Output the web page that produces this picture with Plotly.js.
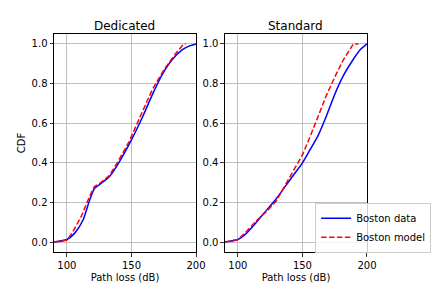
<!DOCTYPE html>
<html>
<head>
<meta charset="utf-8">
<script src="https://cdn.plot.ly/plotly-3.0.1.min.js"></script>
<style>html,body{margin:0;padding:0;background:#fff;}#chart{width:432px;height:288px;}</style>
</head>
<body>
<div id="chart"></div>
<script>
// Dedicated subplot
const dedDataX  = [90, 100, 105.9, 112.4, 117.5, 121.3, 125.2, 132.8, 139.2, 150, 158.5, 166.2, 173.8, 181.5, 189.2, 195, 200];
const dedDataY  = [0, 0.013, 0.044, 0.11, 0.21, 0.27, 0.29, 0.33, 0.39, 0.516, 0.63, 0.744, 0.845, 0.92, 0.97, 0.99, 1.0];
const dedModelX = [90, 100, 104.6, 111, 117.5, 121.3, 125.2, 132.8, 139, 148.2, 157.2, 166.2, 175.2, 184.1, 190.5, 192];
const dedModelY = [0, 0.01, 0.052, 0.128, 0.23, 0.28, 0.295, 0.335, 0.40, 0.507, 0.64, 0.77, 0.87, 0.95, 1.0, 1.0];
// Standard subplot
const stdDataX  = [90, 100, 106.5, 114.3, 122.1, 129.9, 137.7, 144.1, 150, 155.8, 162.3, 168.8, 175.3, 181.7, 188.2, 194.7, 200];
const stdDataY  = [0, 0.013, 0.044, 0.10, 0.16, 0.22, 0.29, 0.347, 0.40, 0.465, 0.54, 0.64, 0.75, 0.84, 0.91, 0.97, 1.0];
const stdModelX = [90, 100, 106.5, 114.3, 122, 130, 137.7, 144, 150, 155.8, 162.3, 168.8, 175.3, 181.7, 189.5, 193.4];
const stdModelY = [0, 0.013, 0.052, 0.108, 0.153, 0.21, 0.30, 0.37, 0.44, 0.53, 0.64, 0.744, 0.836, 0.92, 1.0, 1.0];

const xTicks = [100, 150, 200];
const yTicks = [0, 0.2, 0.4, 0.6, 0.8, 1.0];
const subplotTitles = ["Dedicated", "Standard"];
const seriesNames = ["Boston data", "Boston model"];

const blue = '#0000ff', red = '#ff0000';
const traces = [
  {x: dedDataX, y: dedDataY, mode: 'lines', name: seriesNames[0], line: {color: blue, width: 1.5, shape: 'spline', smoothing: 0.6}, xaxis: 'x', yaxis: 'y', showlegend: false},
  {x: dedModelX, y: dedModelY, mode: 'lines', name: seriesNames[1], line: {color: red, width: 1.5, dash: '5.5px,2.4px'}, xaxis: 'x', yaxis: 'y', showlegend: false},
  {x: stdDataX, y: stdDataY, mode: 'lines', name: seriesNames[0], line: {color: blue, width: 1.5, shape: 'spline', smoothing: 0.6}, xaxis: 'x2', yaxis: 'y2'},
  {x: stdModelX, y: stdModelY, mode: 'lines', name: seriesNames[1], line: {color: red, width: 1.5, dash: '5.5px,2.4px'}, xaxis: 'x2', yaxis: 'y2'}
];

const font = {family: 'DejaVu Sans', size: 10, color: '#000'};
function xax(domain, anchor) {
  return {domain: domain, anchor: anchor, range: [90, 200], tickvals: xTicks,
    showline: true, mirror: true, linecolor: '#000', linewidth: 1,
    ticks: 'outside', ticklen: 3.5, tickwidth: 0.8, tickcolor: '#000',
    showgrid: true, gridcolor: '#b0b0b0', gridwidth: 0.8, zeroline: false, automargin: false,
    tickfont: font, title: {text: 'Path loss (dB)', font: font, standoff: 4}};
}
function yax(anchor, withTitle) {
  const a = {domain: [0.125, 0.882], anchor: anchor, range: [-0.05, 1.05], tickvals: yTicks, tickformat: '.1f',
    showline: true, mirror: true, linecolor: '#000', linewidth: 1,
    ticks: 'outside', ticklen: 3.5, tickwidth: 0.8, tickcolor: '#000',
    showgrid: true, gridcolor: '#b0b0b0', gridwidth: 0.8, zeroline: false, automargin: false,
    tickfont: font};
  if (withTitle) a.title = {text: 'CDF', font: font, standoff: 4};
  return a;
}
const layout = {
  width: 432, height: 288,
  margin: {l: 0, r: 0, t: 0, b: 0, autoexpand: false},
  paper_bgcolor: '#fff', plot_bgcolor: '#fff',
  font: font,
  xaxis: xax([0.125, 0.4537], 'y'),
  yaxis: yax('x', true),
  xaxis2: xax([0.5208, 0.8495], 'y2'),
  yaxis2: yax('x2', false),
  legend: {x: 0.998, y: 0.296, xanchor: 'right', yanchor: 'top', bgcolor: 'rgba(255,255,255,0.8)',
    bordercolor: '#cccccc', borderwidth: 1, font: font, tracegroupgap: 0},
  annotations: [
    {text: subplotTitles[0], xref: 'paper', yref: 'paper', x: (0.125 + 0.4537) / 2, y: 0.882, xanchor: 'center', yanchor: 'bottom', yshift: -1, showarrow: false, font: {family: 'DejaVu Sans', size: 12, color: '#000'}},
    {text: subplotTitles[1], xref: 'paper', yref: 'paper', x: (0.5208 + 0.8495) / 2, y: 0.882, xanchor: 'center', yanchor: 'bottom', yshift: -1, showarrow: false, font: {family: 'DejaVu Sans', size: 12, color: '#000'}}
  ]
};
Plotly.newPlot('chart', traces, layout, {staticPlot: true, displayModeBar: false});
</script>
</body>
</html>
